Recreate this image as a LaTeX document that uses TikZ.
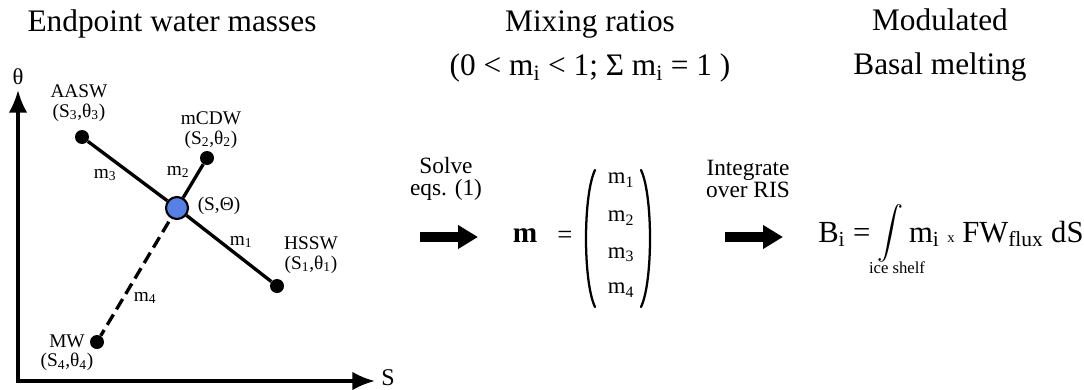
\documentclass[tikz,border=0pt]{standalone}
\usepackage{amsmath,amssymb}
\usepackage{fontspec}
\setmainfont{Liberation Serif}
\usepackage{tikz}
\usetikzlibrary{positioning}
\usetikzlibrary{shapes,calc,arrows.meta}
\definecolor{mixblue}{RGB}{86,128,230}
\newcommand{\intsign}{\raisebox{1.5pt}{\fontsize{19.5}{19.5}\selectfont$\displaystyle\int$}}

\begin{document}
\begin{tikzpicture}[x=0.75pt,y=-0.75pt,
  end node/.style={circle,fill=black,inner sep=0pt,minimum size=10.5pt},
  mix node/.style={circle,fill=mixblue,draw=black,line width=1.6pt,inner sep=0pt,minimum size=16.5pt},
  mass label/.style={font=\fontsize{14.5}{14.5}\selectfont,align=center,inner sep=0pt},
  ratio label/.style={font=\fontsize{14.5}{15}\selectfont,inner sep=0pt},
  entry/.style={font=\fontsize{17}{17}\selectfont,inner sep=0pt},
  title/.style={font=\fontsize{23.5}{33}\selectfont,align=center,inner sep=0pt},
  step label/.style={font=\fontsize{17.5}{17}\selectfont,align=center,inner sep=0pt},
  mix line/.style={line width=2.5pt},
  paren/.style={line width=1.7pt,line cap=round},
  big arrow/.style={line width=7pt,-{Triangle[length=15pt,width=17pt]}},
  axis/.style={line width=2.6pt,{Latex[length=17pt,width=14pt]}-{Latex[length=17pt,width=14pt]}}]
  \useasboundingbox (0,0) rectangle (1084,389);

  % titles
  \node[title] (t1) at (172,24) {Endpoint water masses};
  \node[title] (t2) at (590,46) {Mixing ratios\\(0 < m\textsubscript{i} < 1; Σ m\textsubscript{i} = 1 )};
  \node[title] (t3) at (940,45) {Modulated\\Basal melting};

  % theta-S diagram
  \coordinate (ytip) at (18,90);
  \coordinate (xtip) at (375,381);
  \draw[axis] (ytip) |- (xtip);
  \node[font=\fontsize{17}{17}\selectfont,inner sep=0pt] (theta) at (18,77) {θ};
  \node[font=\fontsize{18}{18}\selectfont,inner sep=0pt] (sal) at (388,378) {S};

  \node[mix node] (mix) at (177,208) {};
  \node[end node] (aasw) at (82,137) {};
  \node[end node] (mcdw) at (207,158) {};
  \node[end node] (hssw) at (277,286) {};
  \node[end node] (mw) at (97,342) {};

  \draw[mix line] (mix) -- (aasw);
  \draw[mix line] (mix) -- (mcdw);
  \draw[mix line] (mix) -- (hssw);
  \draw[mix line,dash pattern=on 9pt off 4.5pt,shorten <=3pt] (mix) -- (mw);

  \node[mass label] at (79,103) {AASW\\(S\textsubscript{3},θ\textsubscript{3})};
  \node[mass label] at (211,130) {mCDW\\(S\textsubscript{2},θ\textsubscript{2})};
  \node[mass label] at (311,255) {HSSW\\(S\textsubscript{1},θ\textsubscript{1})};
  \node[mass label] at (67,353) {MW\\(S\textsubscript{4},θ\textsubscript{4})};
  \node[ratio label] (mixlab) at (219,206) {(S,Θ)};

  \node[ratio label] (r3) at (105,175) {m\textsubscript{3}};
  \node[ratio label] (r2) at (178,172) {m\textsubscript{2}};
  \node[ratio label] (r1) at (241,242) {m\textsubscript{1}};
  \node[ratio label] (r4) at (145,298) {m\textsubscript{4}};

  % solve step
  \node[step label] (solve) at (446,179) {Solve\\eqs. (1)};
  \coordinate (a1) at (420,237);
  \coordinate (b1) at (478,237);
  \draw[big arrow] (a1) -- (b1);

  \node[font=\fontsize{22}{22}\selectfont] (mb) at (525,236) {\textbf{m}};
  \node[font=\fontsize{20}{20}\selectfont] (eq) at (565,237) {=};
  \node[entry] (m1) at (621,180) {m\textsubscript{1}};
  \node[entry] (m2) at (621,218) {m\textsubscript{2}};
  \node[entry] (m3) at (621,255) {m\textsubscript{3}};
  \node[entry] (m4) at (621,290) {m\textsubscript{4}};
  \coordinate (lp top) at (595,170);
  \coordinate (lp bot) at (595,307);
  \coordinate (rp top) at (641,170);
  \coordinate (rp bot) at (641,307);
  \draw[paren] (lp top) .. controls (583,195) and (583,282) .. (lp bot);
  \draw[paren] (rp top) .. controls (653,195) and (653,282) .. (rp bot);

  % integrate step
  \node[step label] (integ) at (748,179) {Integrate\\over RIS};
  \coordinate (a2) at (725,237);
  \coordinate (b2) at (783,237);
  \draw[big arrow] (a2) -- (b2);

  \node[font=\fontsize{23}{23}\selectfont,anchor=base west,inner sep=0pt] (melt) at (818,242)
    {B\textsubscript{i} = \intsign\,m\textsubscript{i} {\fontsize{11}{11}\selectfont x} FW\textsubscript{flux} dS};
  \node[font=\fontsize{12.5}{12.5}\selectfont] (shelf) at (897,268) {ice shelf};
\end{tikzpicture}
\end{document}
